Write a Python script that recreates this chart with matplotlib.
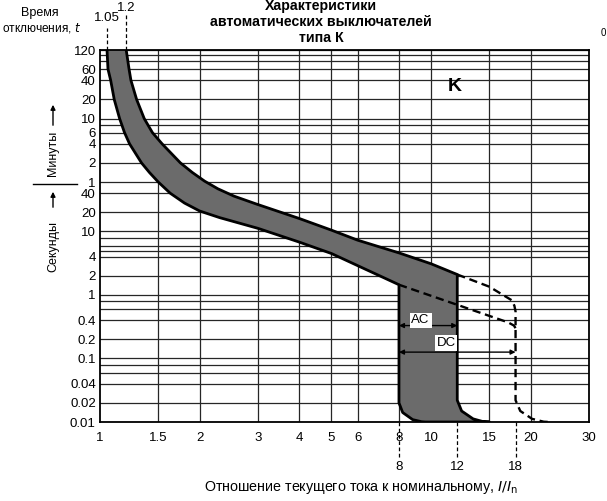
import matplotlib
matplotlib.use("Agg")
import matplotlib.pyplot as plt
from matplotlib.patches import FancyArrowPatch
from matplotlib.ticker import NullLocator

plt.rcParams['font.family'] = ['Liberation Sans', 'DejaVu Sans']

# x ticks: I/In
x_ticks = [1, 1.5, 2, 3, 4, 5, 6, 8, 10, 15, 20, 30]
x_labels = ["1", "1.5", "2", "3", "4", "5", "6", "8", "10", "15", "20", "30"]

# y ticks in seconds (upper part labelled in minutes)
y_ticks = [7200, 3600, 2400, 1200, 600, 360, 240, 120, 60,
           40, 20, 10, 4, 2, 1, 0.4, 0.2, 0.1, 0.04, 0.02, 0.01]
y_labels = ["120", "60", "40", "20", "10", "6", "4", "2", "1",
            "40", "20", "10", "4", "2", "1", "0.4", "0.2", "0.1", "0.04", "0.02", "0.01"]

# horizontal grid lines (seconds)
h_grid = [7200, 6000, 4800, 3600, 2400, 1200, 600, 480, 360, 240, 120, 60,
          40, 20, 10, 8, 6, 5, 4, 2, 1, 0.8, 0.6, 0.4, 0.2, 0.1, 0.08, 0.06,
          0.04, 0.02, 0.01]
v_grid = [1.5, 2, 3, 4, 5, 6, 8, 10, 15, 20]

# band: left (lower) edge, top -> bottom
left_x = [1.05, 1.057, 1.077, 1.104, 1.146, 1.186, 1.228, 1.335, 1.41, 1.5, 1.63, 1.8, 2.0,
          2.3, 3.0, 4.0, 5.0, 6.0, 8.0,
          8.0, 8.21, 8.8, 9.36, 9.6]
left_t = [7200, 3600, 2400, 1200, 600, 360, 240, 120, 85, 60, 40, 28, 21,
          16.5, 11.2, 6.8, 4.5, 2.9, 1.45,
          0.02, 0.0141, 0.0109, 0.0101, 0.01]

# band: right (upper) edge, top -> bottom
right_x = [1.2, 1.224, 1.24, 1.29, 1.36, 1.44, 1.54, 1.75, 1.9, 2.07, 2.27, 2.54, 2.97,
           4.0, 5.0, 6.0, 8.0, 10.0, 12.0,
           12.0, 12.37, 13.4, 14.4, 15.0]
right_t = [7200, 3600, 2400, 1200, 600, 360, 240, 120, 85, 62, 47, 36, 27,
           16, 10.5, 7.3, 4.6, 3.1, 2.1,
           0.022, 0.0149, 0.0112, 0.0101, 0.01]

# DC characteristic (dashed)
dc_up_x = [12.0, 15.0, 17.5, 17.85, 18.0, 18.0, 18.6, 20.2, 21.9, 22.8]
dc_up_t = [2.1, 1.35, 0.83, 0.68, 0.55, 0.022, 0.0149, 0.0112, 0.0101, 0.01]
dc_low_x = [8.0, 12.0, 17.1, 17.8, 18.0]
dc_low_t = [1.45, 0.7, 0.37, 0.33, 0.3]

# AC / DC ranges
ac_range = [8, 12]
dc_range = [8, 18]
ac_t = 0.33
dc_t = 0.126

top_marks = [1.05, 1.2]
bottom_marks = [8, 12, 18]

fig = plt.figure(figsize=(6.07, 5.01), dpi=100)
ax = fig.add_axes([100/607, 1-422/501, 489/607, 372/501])
ax.set_xscale("log")
ax.set_yscale("log")
ax.set_xlim(1, 30)
ax.set_ylim(0.01, 7200)

grid_c = "#262626"
for h in h_grid:
    ax.axhline(h, color=grid_c, lw=0.9, zorder=1)
for v in v_grid:
    ax.axvline(v, color=grid_c, lw=0.9, zorder=1)

# band
out_x = left_x + right_x[::-1]
out_t = left_t + right_t[::-1]
ax.fill(out_x, out_t, color="#6b6b6b", zorder=2, lw=0)
ax.plot(out_x, out_t, color="black", lw=2, zorder=3, solid_joinstyle="round")

dash = (0, (3.5, 2))
ax.plot(dc_up_x, dc_up_t, color="black", lw=1.7, ls=dash, zorder=3)
ax.plot(dc_low_x, dc_low_t, color="black", lw=1.7, ls=dash, zorder=3)

ax.annotate("", xy=(ac_range[0], ac_t), xytext=(ac_range[1], ac_t),
            arrowprops=dict(arrowstyle="<|-|>", color="black", lw=1,
                            mutation_scale=7, shrinkA=0, shrinkB=0), zorder=4)
ax.annotate("", xy=(dc_range[0], dc_t), xytext=(dc_range[1], dc_t),
            arrowprops=dict(arrowstyle="<|-|>", color="black", lw=1,
                            mutation_scale=7, shrinkA=0, shrinkB=0), zorder=4)
box = dict(facecolor="white", edgecolor="none", pad=1.2)
ax.text(9.3, 0.40, "AC", ha="center", va="center", fontsize=9.5, bbox=box, zorder=5)
ax.text(11.1, 0.175, "DC", ha="center", va="center", fontsize=9.5, bbox=box, zorder=5)

ax.text(11.8, 1900, "K", ha="center", va="center", fontsize=14, fontweight="bold")

ax.set_xticks(x_ticks, x_labels)
ax.set_yticks(y_ticks, y_labels)
ax.xaxis.set_minor_locator(NullLocator())
ax.yaxis.set_minor_locator(NullLocator())
ax.tick_params(axis="both", length=0, labelsize=9.5)
ax.tick_params(axis="x", pad=7)
ax.tick_params(axis="y", pad=3)
for s in ax.spines.values():
    s.set_color("black")
    s.set_linewidth(1.3)

# dashed markers above and below the axes
xt = ax.get_xaxis_transform()
ax.plot([top_marks[0]] * 2, [1, 1 + 22/372], transform=xt, clip_on=False,
        color="black", lw=0.9, ls=(0, (3, 2)))
ax.plot([top_marks[1]] * 2, [1, 1 + 37/372], transform=xt, clip_on=False,
        color="black", lw=0.9, ls=(0, (3, 2)))
ax.text(top_marks[0], 1 + 32/372, "1.05", transform=xt, ha="center", va="center", fontsize=9.5)
ax.text(top_marks[1], 1 + 42/372, "1.2", transform=xt, ha="center", va="center", fontsize=9.5)
for m in bottom_marks:
    ax.plot([m, m], [0, -36/372], transform=xt, clip_on=False,
            color="black", lw=0.9, ls=(0, (3, 2)))
    ax.text(m, -45/372, str(m), transform=xt, ha="center", va="center", fontsize=9.5)

fig.text(361/607, 1 - 488/501, "Отношение текущего тока к номинальному, $I/I_{\\rm n}$",
         ha="center", va="center", fontsize=10.3)

fig.text(321/607, 1 + 1/501,
         "Характеристики\nавтоматических выключателей\nтипа К",
         ha="center", va="top", fontsize=10.2, fontweight="bold", linespacing=1.2)
fig.text(603/607, 1 - 33/501, "0", ha="center", va="center", fontsize=7)

fig.text(40/607, 1 - 13/501, "Время", ha="center", va="center", fontsize=9)
fig.text(2/607, 1 - 28/501, "отключения, $t$", ha="left", va="center", fontsize=8.6)

fig.text(53/607, 1 - 153/501, "Минуты", rotation=90, ha="center", va="center", fontsize=9)
fig.text(53/607, 1 - 247/501, "Секунды", rotation=90, ha="center", va="center", fontsize=9)
fig.add_artist(plt.Line2D([33/607, 77/607], [1 - 184/501, 1 - 184/501],
                          color="black", lw=1))
fig.patches.append(FancyArrowPatch(
    (53/607, 1 - 128/501), (53/607, 1 - 102/501), transform=fig.transFigure,
    arrowstyle="-|>", mutation_scale=7, color="black", lw=1))
fig.patches.append(FancyArrowPatch(
    (53/607, 1 - 210/501), (53/607, 1 - 189/501), transform=fig.transFigure,
    arrowstyle="-|>", mutation_scale=7, color="black", lw=1))

fig.savefig("out.png", dpi=100, facecolor="white")
